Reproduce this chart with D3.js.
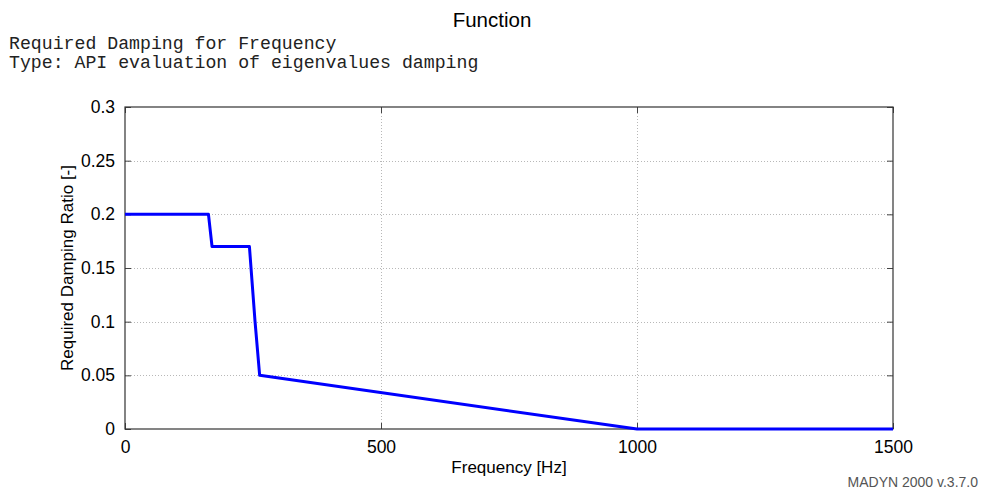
<!DOCTYPE html>
<html>
<head>
<meta charset="utf-8">
<script src="https://cdn.jsdelivr.net/npm/d3@7"></script>
<style>
  html, body { margin: 0; padding: 0; background: #fff; }
  svg { display: block; }
</style>
</head>
<body>
<svg id="chart" width="981" height="492"></svg>
<script>
// Required damping ratio versus frequency
const freqHz = [0, 163, 170, 243, 254, 263, 1000, 1500];
const dampingRatio = [0.2, 0.2, 0.17, 0.17, 0.1, 0.05, 0, 0];
const xTicks = [0, 500, 1000, 1500];
const yTicks = [0, 0.05, 0.1, 0.15, 0.2, 0.25, 0.3];
const yTickLabels = ["0", "0.05", "0.1", "0.15", "0.2", "0.25", "0.3"];

const svg = d3.select("#chart");
const margin = { left: 125, top: 107, right: 981 - 893, bottom: 492 - 429 };
const W = 981, H = 492;
const x = d3.scaleLinear().domain([0, 1500]).range([margin.left, W - margin.right]);
const y = d3.scaleLinear().domain([0, 0.3]).range([H - margin.bottom, margin.top]);

const sans = "Helvetica, 'Liberation Sans', Arial, sans-serif";
const mono = "'Liberation Mono', 'Courier New', monospace";

// Title and description
svg.append("text").attr("x", 492).attr("y", 27).attr("text-anchor", "middle")
  .attr("font-family", sans).attr("font-size", 20.5).text("Function");
svg.append("text").attr("x", 9).attr("y", 49).attr("font-family", mono)
  .attr("font-size", 18.2).attr("fill", "#222").text("Required Damping for Frequency");
svg.append("text").attr("x", 9).attr("y", 68).attr("font-family", mono)
  .attr("font-size", 18.2).attr("fill", "#222").text("Type: API evaluation of eigenvalues damping");

// Grid lines
const grid = svg.append("g").attr("stroke", "#b8b8b8").attr("stroke-width", 1)
  .attr("stroke-dasharray", "1,2");
grid.selectAll(".gx").data(xTicks.slice(1, -1)).join("line")
  .attr("x1", d => Math.round(x(d)) + 0.5).attr("x2", d => Math.round(x(d)) + 0.5)
  .attr("y1", y(0)).attr("y2", y(0.3));
grid.selectAll(".gy").data(yTicks.slice(1, -1)).join("line")
  .attr("y1", d => Math.round(y(d)) + 0.5).attr("y2", d => Math.round(y(d)) + 0.5)
  .attr("x1", x(0)).attr("x2", x(1500));

// Axes with inward ticks
const xAxis = d3.axisBottom(x).tickValues(xTicks).tickSize(-6).tickPadding(12)
  .tickFormat(d3.format("d"));
const yAxis = d3.axisLeft(y).tickValues(yTicks).tickSize(-6).tickPadding(10)
  .tickFormat((d, i) => yTickLabels[i]);
const xTop = d3.axisTop(x).tickValues(xTicks).tickSize(-6).tickFormat("");
const yRight = d3.axisRight(y).tickValues(yTicks).tickSize(-6).tickFormat("");

function styleAxis(g) {
  g.select(".domain").remove();
  g.selectAll(".tick line").attr("stroke", "#444");
  g.selectAll("text").attr("font-family", sans).attr("font-size", 17.5).attr("fill", "#000");
}
svg.append("g").attr("transform", `translate(0,${y(0)})`).call(xAxis).call(styleAxis);
svg.append("g").attr("transform", `translate(${x(0)},0)`).call(yAxis).call(styleAxis);
svg.append("g").attr("transform", `translate(0,${y(0.3)})`).call(xTop).call(styleAxis);
svg.append("g").attr("transform", `translate(${x(1500)},0)`).call(yRight).call(styleAxis);

// Frame
svg.append("rect").attr("x", x(0)).attr("y", y(0.3))
  .attr("width", x(1500) - x(0)).attr("height", y(0) - y(0.3))
  .attr("fill", "none").attr("stroke", "#333").attr("stroke-width", 1.2);

// Data line
const data = freqHz.map((f, i) => [f, dampingRatio[i]]);
svg.append("path").datum(data)
  .attr("d", d3.line().x(d => x(d[0])).y(d => y(d[1])))
  .attr("fill", "none").attr("stroke", "#0000ff").attr("stroke-width", 3)
  .attr("stroke-linejoin", "round");

// Axis labels
svg.append("text").attr("x", x(750)).attr("y", 473).attr("text-anchor", "middle")
  .attr("font-family", sans).attr("font-size", 17).text("Frequency [Hz]");
svg.append("text").attr("transform", `translate(73,${y(0.15)}) rotate(-90)`)
  .attr("text-anchor", "middle").attr("font-family", sans).attr("font-size", 17)
  .text("Required Damping Ratio [-]");

// Footer
svg.append("text").attr("x", 978).attr("y", 487).attr("text-anchor", "end")
  .attr("font-family", sans).attr("font-size", 14).attr("fill", "#555")
  .text("MADYN 2000 v.3.7.0");
</script>
</body>
</html>
